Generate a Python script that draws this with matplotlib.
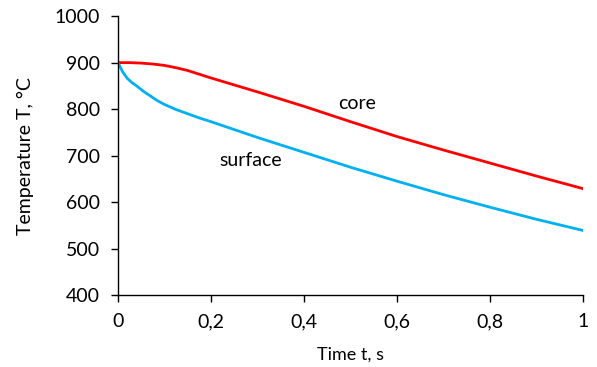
import matplotlib
matplotlib.use("Agg")
import matplotlib.pyplot as plt
from matplotlib.ticker import FuncFormatter

plt.rcParams['font.family'] = ['Lato', 'DejaVu Sans']

t_core = [0, 0.025, 0.05, 0.075, 0.1, 0.125, 0.15, 0.175, 0.2, 0.25, 0.3, 0.4, 0.5, 0.6, 0.7, 0.8, 0.9, 1.0]
T_core = [900, 900, 899, 897, 894, 889, 883, 875, 867, 852, 837, 806, 773, 741, 712, 684, 656, 629]

t_surf = [0, 0.01, 0.02, 0.03, 0.04, 0.055, 0.07, 0.085, 0.1, 0.125, 0.15, 0.175, 0.2, 0.3, 0.4, 0.5, 0.6, 0.7, 0.8, 0.9, 1.0]
T_surf = [900, 880, 866, 857, 850, 838, 828, 818, 810, 799, 790, 781, 773, 739, 707, 675, 645, 616, 589, 563, 539]

x_ticks = [0, 0.2, 0.4, 0.6, 0.8, 1.0]
y_ticks = [400, 500, 600, 700, 800, 900, 1000]

fig = plt.figure(figsize=(5.97, 3.67), dpi=100)
ax = fig.add_axes([0.1977, 0.196, 0.7788, 0.760])
ax.plot(t_core, T_core, color='#ff0000', lw=2.0)
ax.plot(t_surf, T_surf, color='#00b0f0', lw=2.0)
ax.set_xlim(0, 1)
ax.set_ylim(400, 1000)
ax.set_xticks(x_ticks)
ax.set_yticks(y_ticks)
ax.xaxis.set_major_formatter(FuncFormatter(lambda v, p: ('%g' % v).replace('.', ',')))
for s in ['top', 'right']:
    ax.spines[s].set_visible(False)
for s in ['left', 'bottom']:
    ax.spines[s].set_color('black')
    ax.spines[s].set_linewidth(1.0)
ax.tick_params(direction='out', length=5, width=1, labelsize=14, pad=8)
ax.set_xlabel('Time t, s', fontsize=13)
ax.set_ylabel('Temperature T, °C', fontsize=14)
ax.xaxis.set_label_coords(0.5, -0.186)
ax.yaxis.set_label_coords(-0.18, 0.5)
ax.text(0.473, 800, 'core', fontsize=14, va='baseline')
ax.text(0.217, 678, 'surface', fontsize=14, va='baseline')
fig.savefig('out.png', dpi=100)
